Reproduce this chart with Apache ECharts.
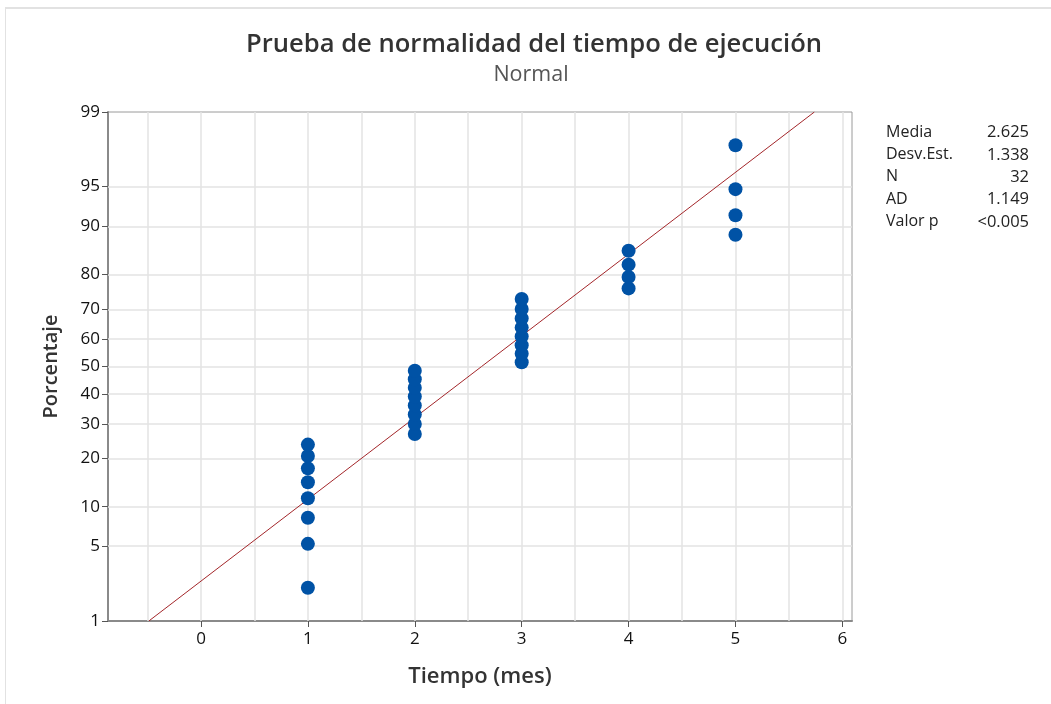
<!DOCTYPE html>
<html>
<head>
<meta charset="utf-8">
<script src="https://cdn.jsdelivr.net/npm/echarts@6/dist/echarts.min.js"></script>
<style>
html,body{margin:0;padding:0;background:#fff;}
#frame{position:absolute;left:5px;top:7px;right:0;bottom:0;border-left:1px solid #e2e2e2;border-top:2px solid #e2e2e2;}
#chart{position:absolute;left:0;top:0;width:1051px;height:704px;}
</style>
</head>
<body>
<div id="frame"></div>
<div id="chart"></div>
<script>
// ---- data ----
const tiempo = [1,1,1,1,1,1,1,1, 2,2,2,2,2,2,2,2, 3,3,3,3,3,3,3,3, 4,4,4,4, 5,5,5,5];
const porcentaje = [2.16,5.25,8.33,11.42,14.51,17.59,20.68,23.77,
  26.85,29.94,33.02,36.11,39.20,42.28,45.37,48.46,
  51.54,54.63,57.72,60.80,63.89,66.98,70.06,73.15,
  76.23,79.32,82.41,85.49,
  88.58,91.67,94.75,97.84];
const lineaX = [-0.488, 5.738];
const lineaP = [1, 99];
const yTicks = [1,5,10,20,30,40,50,60,70,80,90,95,99];
const xTicks = [0,1,2,3,4,5,6];
const xGrid = [-0.5,0,0.5,1,1.5,2,2.5,3,3.5,4,4.5,5,5.5,6];
const statsLabels = ['Media','Desv.Est.','N','AD','Valor p'];
const statsValues = ['2.625','1.338','32','1.149','<0.005'];

// inverse normal CDF (Acklam) – maps percent onto the probability scale
function probit(p){
  const a=[-3.969683028665376e+01,2.209460984245205e+02,-2.759285104469687e+02,1.383577518672690e+02,-3.066479806614716e+01,2.506628277459239e+00];
  const b=[-5.447609879822406e+01,1.615858368580409e+02,-1.556989798598866e+02,6.680131188771972e+01,-1.328068155288572e+01];
  const c=[-7.784894002430293e-03,-3.223964580411365e-01,-2.400758277161838e+00,-2.549732539343734e+00,4.374664141464968e+00,2.938163982698783e+00];
  const d=[7.784695709041462e-03,3.224671290700398e-01,2.445134137142996e+00,3.754408661907416e+00];
  const pl=0.02425, ph=1-pl; let q,r;
  if(p<pl){q=Math.sqrt(-2*Math.log(p));return (((((c[0]*q+c[1])*q+c[2])*q+c[3])*q+c[4])*q+c[5])/((((d[0]*q+d[1])*q+d[2])*q+d[3])*q+1);}
  if(p<=ph){q=p-0.5;r=q*q;return (((((a[0]*r+a[1])*r+a[2])*r+a[3])*r+a[4])*r+a[5])*q/(((((b[0]*r+b[1])*r+b[2])*r+b[3])*r+b[4])*r+1);}
  q=Math.sqrt(-2*Math.log(1-p));return -(((((c[0]*q+c[1])*q+c[2])*q+c[3])*q+c[4])*q+c[5])/((((d[0]*q+d[1])*q+d[2])*q+d[3])*q+1);
}
const Z = v => probit(v/100);
const yTickZ = yTicks.map(Z);
const zMin = Z(1), zMax = Z(99);

const FONT = '"Open Sans","Noto Sans",sans-serif';
const chart = echarts.init(document.getElementById('chart'));

const gridLines = [];
yTickZ.forEach(z => gridLines.push({yAxis: z}));
xGrid.forEach(x => gridLines.push({xAxis: x}));

const stats = [];
statsLabels.forEach((t,i) => {
  stats.push({type:'text', left:886, top:124+i*22.4, style:{text:t, font:'16px '+FONT, fill:'#222'}});
  stats.push({type:'text', right:22, top:124+i*22.4, style:{text:statsValues[i], font:'16.5px '+FONT, fill:'#222', textAlign:'right'}});
});

chart.setOption({
  animation:false,
  backgroundColor:'transparent',
  title:[
    {text:'Prueba de normalidad del tiempo de ejecución', left:529, top:27, textAlign:'center',
     textStyle:{fontFamily:FONT, fontSize:25.6, fontWeight:600, color:'#333'}},
    {text:'Normal', left:526, top:59, textAlign:'center',
     textStyle:{fontFamily:FONT, fontSize:21.5, fontWeight:'normal', color:'#555'}}
  ],
  graphic: stats,
  grid:{left:108, top:112, right:199, bottom:83, show:true, borderColor:'#9a9a9a', borderWidth:1, containLabel:false},
  xAxis:{
    type:'value', min:-0.87, max:6.09,
    name:'Tiempo (mes)', nameLocation:'middle', nameGap:45,
    nameTextStyle:{fontFamily:FONT, fontSize:22, fontWeight:600, color:'#333'},
    axisLine:{show:true, onZero:false, lineStyle:{color:'#8a8a8a', width:2}},
    axisTick:{show:true, customValues:xTicks, length:6, lineStyle:{color:'#555'}},
    axisLabel:{customValues:xTicks, fontFamily:FONT, fontSize:17, color:'#111', margin:10},
    splitLine:{show:false}
  },
  yAxis:{
    type:'value', min:zMin, max:zMax,
    name:'Porcentaje', nameLocation:'middle', nameGap:47,
    nameTextStyle:{fontFamily:FONT, fontSize:20, fontWeight:600, color:'#333'},
    axisLine:{show:true, onZero:false, lineStyle:{color:'#8a8a8a', width:2}},
    axisTick:{show:true, customValues:yTickZ, length:6, lineStyle:{color:'#555'}},
    axisLabel:{customValues:yTickZ, fontFamily:FONT, fontSize:17, color:'#111', margin:8,
      formatter: v => { let best=0; yTickZ.forEach((z,i)=>{ if(Math.abs(z-v)<Math.abs(yTickZ[best]-v)) best=i; }); return String(yTicks[best]); }},
    splitLine:{show:false}
  },
  series:[
    {type:'line', data:[], silent:true, z:1,
     markLine:{silent:true, symbol:'none', animation:false, label:{show:false}, z:1,
       lineStyle:{color:'#e3e3e3', width:1.5, type:'solid'}, data:gridLines}},
    {type:'line', silent:true, symbol:'none', z:3,
     lineStyle:{color:'#a3262a', width:1},
     data: lineaX.map((x,i)=>[x, Z(lineaP[i])])},
    {type:'scatter', symbol:'circle', symbolSize:14, z:5,
     itemStyle:{color:'#0052a5', opacity:1},
     data: tiempo.map((x,i)=>[x, Z(porcentaje[i])])}
  ]
});
</script>
</body>
</html>
